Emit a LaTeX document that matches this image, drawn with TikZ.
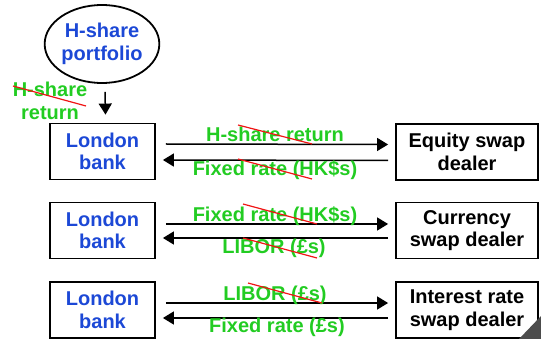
\documentclass[tikz,border=0pt]{standalone}
\usepackage{fontspec}
\setmainfont{Liberation Sans}
\usetikzlibrary{shapes.geometric,arrows.meta,calc}
\definecolor{tblue}{RGB}{28,72,214}
\definecolor{tgreen}{RGB}{34,204,34}
\definecolor{tred}{RGB}{240,20,20}
\begin{document}
\begin{tikzpicture}[x=1pt,y=-1pt,
  txt/.style={font=\fontsize{20}{22.5}\selectfont\bfseries, align=center},
  bank/.style={draw, line width=1.8pt, minimum width=105pt, minimum height=56pt, inner sep=0pt, txt, text=tblue},
  dealer/.style={draw, line width=1.8pt, minimum width=142pt, minimum height=56pt, inner sep=0pt, txt},
  lab/.style={txt, text=tgreen, anchor=base, inner sep=0pt},
  arr/.style={line width=1.5pt, -{Triangle[length=11pt,width=13pt]}},
  strike/.style={tred, line width=1.2pt}]
\useasboundingbox (0,0) rectangle (541,339);
\node[ellipse, draw, line width=1.8pt, minimum width=114pt, minimum height=78pt, inner sep=0pt, txt, text=tblue] (port) at (102,44) {H-share\\portfolio};
\node[bank] (lb1) at (102.5,151.5) {London\\bank};
\node[bank] (lb2) at (102.5,230.5) {London\\bank};
\node[bank] (lb3) at (102.5,310) {London\\bank};
\node[dealer] (ed1) at (467,152) {Equity swap\\dealer};
\node[dealer] (ed2) at (467,230.5) {Currency\\swap dealer};
\node[dealer] (ed3) at (467,310) {Interest rate\\swap dealer};
% top input
\node[txt, text=tgreen, inner sep=0pt] (hret) at (50,101) {H-share\\return};
\draw[arr] ($(port.south)+(3,8)$) -- ($(lb1.north)+(3,-8)$);
% pair 1
\draw[arr] ($(lb1.east)+(10,-7.5)$) -- ($(ed1.west)+(-7,-7.5)$);
\draw[arr] ($(ed1.west)+(-7,8.5)$) -- ($(lb1.east)+(7,8.5)$);
\node[lab] (l1a) at (275,142) {H-share return};
\node[lab] (l1b) at (275,176) {Fixed rate (HK\$s)};
% pair 2
\draw[arr] ($(lb2.east)+(10,-6.5)$) -- ($(ed2.west)+(-7,-6.5)$);
\draw[arr] ($(ed2.west)+(-7,7.5)$) -- ($(lb2.east)+(7,7.5)$);
\node[lab] (l2a) at (275,222) {Fixed rate (HK\$s)};
\node[lab] (l2b) at (274,254) {LIBOR (£s)};
% pair 3
\draw[arr] ($(lb3.east)+(10,-7)$) -- ($(ed3.west)+(-7,-7)$);
\draw[arr] ($(ed3.west)+(-7,8)$) -- ($(lb3.east)+(7,8)$);
\node[lab] (l3a) at (275,300) {LIBOR (£s)};
\node[lab] (l3b) at (277,332) {Fixed rate (£s)};
% strikes
\draw[strike] (13,86) -- (86,106);
\draw[strike] (238,125) -- (312,144);
\draw[strike] (238,159) -- (312,179);
\draw[strike] (243,204) -- (317,224);
\draw[strike] (243,238) -- (317,258);
\draw[strike] (248,283) -- (322,303);
% corner curl
\fill[gray!60!black] (519,339) -- (541,316) -- (541,339) -- cycle;
\end{tikzpicture}
\end{document}
